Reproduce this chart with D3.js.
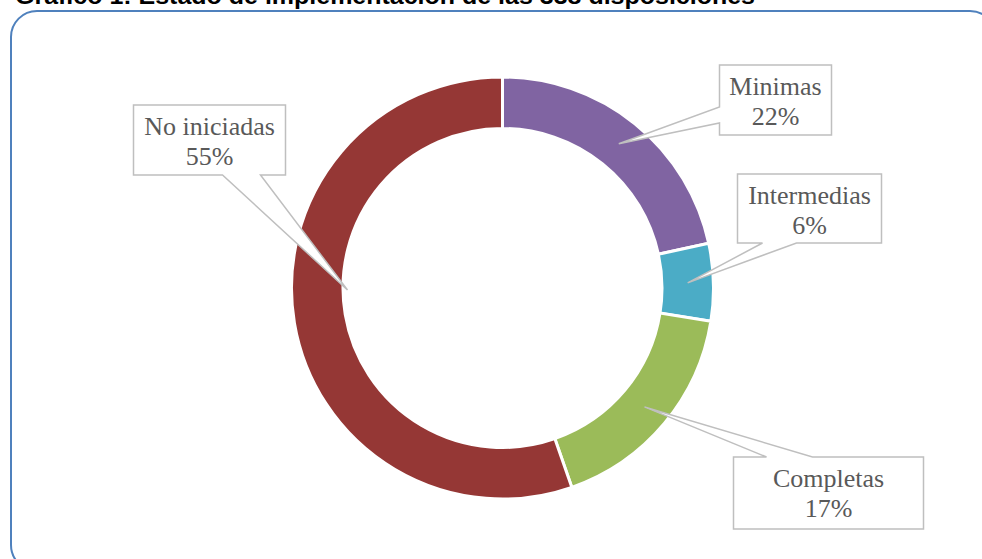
<!DOCTYPE html>
<html>
<head>
<meta charset="utf-8">
<script src="https://cdn.jsdelivr.net/npm/d3@7"></script>
<style>
  body { margin:0; background:#fff; }
  svg { display:block; }
</style>
</head>
<body>
<svg id="chart" width="982" height="559"></svg>
<script>
// disposiciones por estado (338 en total)
var categories = ["Minimas","Intermedias","Completas","No iniciadas"];
var counts = [73, 20, 58, 187];
var pctLabels = ["22%","6%","17%","55%"];
var colors = ["#8064A2","#4BACC6","#9BBB59","#953735"];

var width = 982, height = 559;
var cx = 502.5, cy = 288, rOut = 211, rIn = 159.5;

var svg = d3.select("#chart");

// titulo (cortado arriba, como en el original)
svg.append("text")
   .attr("x", 15).attr("y", 4)
   .attr("textLength", 740)
   .attr("lengthAdjust", "spacingAndGlyphs")
   .style("font-family", "Liberation Sans, Arial, sans-serif")
   .style("font-weight", "bold")
   .style("font-size", "23px")
   .style("fill", "#000")
   .text("Gráfico 1: Estado de implementación de las 338 disposiciones");

// marco redondeado
svg.append("rect")
   .attr("x", 11).attr("y", 11)
   .attr("width", 985).attr("height", 560)
   .attr("rx", 26).attr("ry", 26)
   .style("fill", "none")
   .style("stroke", "#4F81BD")
   .style("stroke-width", 2);

var data = categories.map(function(c, i){
    return {name:c, value:counts[i], label:pctLabels[i], color:colors[i]};
});

var pie = d3.pie().sort(null).value(d => d.value);
var arc = d3.arc().innerRadius(rIn).outerRadius(rOut);
var arcs = pie(data);

var g = svg.append("g").attr("transform", "translate(" + cx + "," + cy + ")");

g.selectAll("path.slice")
 .data(arcs)
 .join("path")
 .attr("class", "slice")
 .attr("d", arc)
 .style("fill", d => d.data.color)
 .style("stroke", "#fff")
 .style("stroke-width", 3);

// cajas de etiquetas (posiciones relativas al centro)
var boxes = {
  "Minimas":      {x:217,  y:-223, w:112, h:70, edge:"left",   a:-181, b:-165},
  "Intermedias":  {x:235,  y:-114, w:144, h:69, edge:"bottom", a:260,  b:294},
  "Completas":    {x:231,  y:169,  w:190, h:72, edge:"top",    a:264,  b:310},
  "No iniciadas": {x:-369, y:-183, w:152, h:70, edge:"bottom", a:-280, b:-242, tip:[-155, 2]}
};

function calloutPath(bx, tip){
    var L = bx.x, T = bx.y, R = bx.x + bx.w, B = bx.y + bx.h;
    var p = d3.path();
    if(bx.edge == "left"){
        p.moveTo(L, T); p.lineTo(R, T); p.lineTo(R, B); p.lineTo(L, B);
        p.lineTo(L, bx.b); p.lineTo(tip[0], tip[1]); p.lineTo(L, bx.a);
    } else if(bx.edge == "bottom"){
        p.moveTo(L, T); p.lineTo(R, T); p.lineTo(R, B); p.lineTo(bx.b, B);
        p.lineTo(tip[0], tip[1]); p.lineTo(bx.a, B); p.lineTo(L, B);
    } else {
        p.moveTo(L, T); p.lineTo(bx.a, T); p.lineTo(tip[0], tip[1]); p.lineTo(bx.b, T);
        p.lineTo(R, T); p.lineTo(R, B); p.lineTo(L, B);
    }
    p.closePath();
    return p.toString();
}

var labels = g.selectAll("g.lbl")
  .data(arcs)
  .join("g")
  .attr("class", "lbl");

labels.append("path")
  .attr("d", function(d){
      var bx = boxes[d.data.name];
      var tip = bx.tip || d3.arc().innerRadius(rIn).outerRadius(rOut).centroid(d);
      return calloutPath(bx, tip);
  })
  .style("fill", "#fff")
  .style("stroke", "#BFBFBF")
  .style("stroke-width", 1.5)
  .style("stroke-linejoin", "miter");

labels.each(function(d){
    var bx = boxes[d.data.name];
    var t = d3.select(this).append("text")
        .attr("text-anchor", "middle")
        .style("font-family", "Liberation Serif, Times New Roman, serif")
        .style("font-size", "26px")
        .style("fill", "#595959");
    t.append("tspan").attr("x", bx.x + bx.w/2).attr("y", bx.y + 30).text(d.data.name);
    t.append("tspan").attr("x", bx.x + bx.w/2).attr("y", bx.y + 60).text(d.data.label);
});
</script>
</body>
</html>
